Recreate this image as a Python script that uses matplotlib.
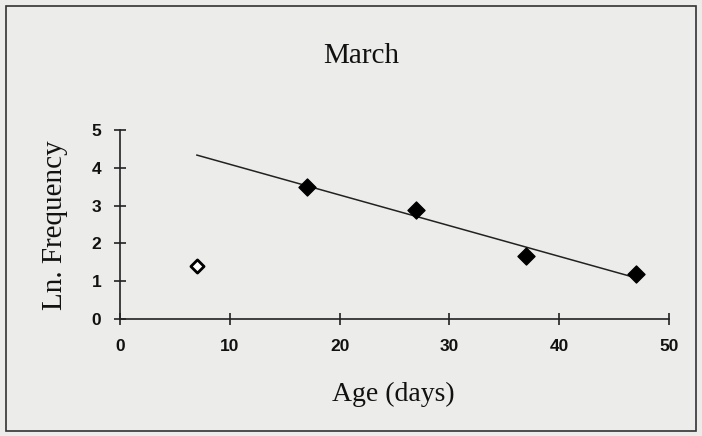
import numpy as np
import matplotlib
matplotlib.use('Agg')
import matplotlib.pyplot as plt
from matplotlib.patches import Rectangle

# catch curve data, March
age_days = [7, 17, 27, 37, 47]
ln_freq = [1.40, 3.49, 2.88, 1.67, 1.19]
# first point (open marker) left out of the regression
fit_ages = age_days[1:]
fit_vals = ln_freq[1:]

xticks = [0, 10, 20, 30, 40, 50]
yticks = [0, 1, 2, 3, 4, 5]

bg = '#ececea'
W, H = 702, 436

fig = plt.figure(figsize=(7.02, 4.36), dpi=100, facecolor=bg)
fig.patches.append(Rectangle((0.008, 0.012), 0.984, 0.975, transform=fig.transFigure,
                             fill=False, edgecolor='#333333', lw=1.2))
ax = fig.add_axes([0.171, 0.268, 0.782, 0.434])
ax.set_facecolor(bg)

slope, icpt = np.polyfit(fit_ages, fit_vals, 1)
xl = np.array([age_days[0], age_days[-1]])
ax.plot(xl, icpt + slope * xl, color='#222222', lw=1.1, zorder=2)

ax.scatter(fit_ages, fit_vals, marker='D', s=75, color='black', zorder=3)
ax.scatter(age_days[:1], ln_freq[:1], marker='D', s=45, facecolor='white',
           edgecolor='black', linewidths=2, zorder=3)

ax.set_xlim(0, 50)
ax.set_ylim(0, 5)
ax.set_xticks(xticks)
ax.set_yticks(yticks)
for s in ['top', 'right']:
    ax.spines[s].set_visible(False)
for s in ['left', 'bottom']:
    ax.spines[s].set_linewidth(1.2)
    ax.spines[s].set_color('#222222')
ax.tick_params(direction='inout', length=9, width=1.2, colors='#222222')
ax.tick_params(axis='x', pad=10)
ax.tick_params(axis='y', pad=9)
for lab in ax.get_xticklabels() + ax.get_yticklabels():
    lab.set_fontfamily('Liberation Sans')
    lab.set_fontweight('bold')
    lab.set_fontsize(12.5)
    lab.set_color('#111111')

serif = dict(fontfamily='Liberation Serif', color='#111111', ha='center', va='center')
fig.text(361 / W, 1 - 56 / H, 'March', fontsize=21, **serif)
fig.text(393 / W, 1 - 394 / H, 'Age (days)', fontsize=20, **serif)
fig.text(55 / W, 1 - 225 / H, 'Ln. Frequency', fontsize=21, rotation=90, **serif)

fig.savefig('out.png', dpi=100, facecolor=bg)
